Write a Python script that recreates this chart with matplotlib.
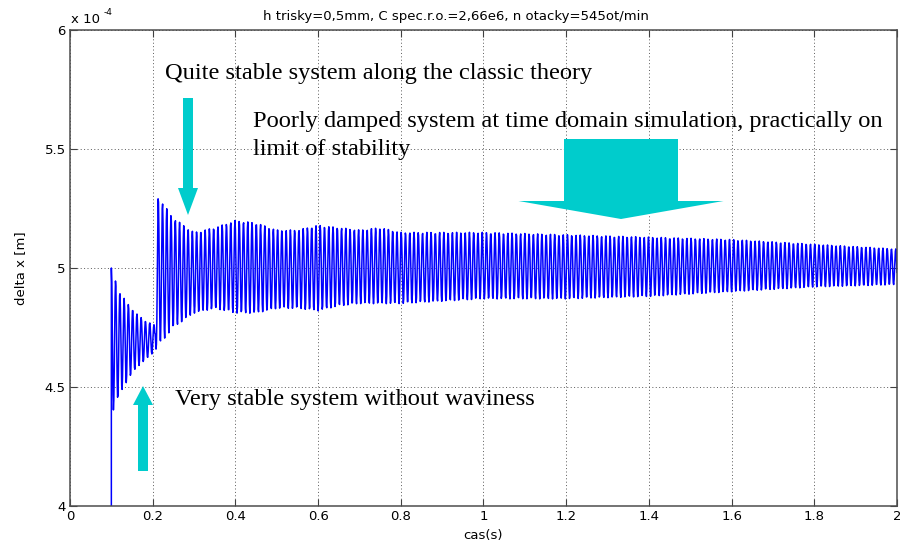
import numpy as np
import matplotlib
matplotlib.use("Agg")
import matplotlib.pyplot as plt
from matplotlib.patches import Polygon

# response of the spindle displacement, in units of 1e-4 m
# before the cut starts the value sits at zero (below the visible range)
start_t = [0.0, 0.1]
start_val = [0.0, 0.0]

# envelope of the vibration read at a few instants (upper / lower peaks)
env_t = [0.100, 0.120, 0.140, 0.160, 0.180, 0.205, 0.213, 0.250, 0.300, 0.350,
         0.400, 0.450, 0.500, 0.550, 0.600, 0.650, 0.700, 0.750, 0.800, 0.900,
         1.000, 1.200, 1.400, 1.600, 1.800, 2.000]
env_upper = [5.00, 4.90, 4.85, 4.81, 4.78, 4.76, 5.30, 5.21, 5.15, 5.17,
             5.20, 5.19, 5.16, 5.16, 5.18, 5.17, 5.16, 5.17, 5.15, 5.15,
             5.15, 5.14, 5.13, 5.12, 5.10, 5.08]
env_lower = [4.38, 4.47, 4.53, 4.58, 4.61, 4.65, 4.67, 4.75, 4.81, 4.83,
             4.81, 4.81, 4.83, 4.83, 4.82, 4.84, 4.85, 4.85, 4.85, 4.86,
             4.87, 4.87, 4.88, 4.90, 4.92, 4.93]
f_osc = 97.0   # Hz, vibration frequency
dt_sim = 0.001  # simulation output step

x_ticks = [0, 0.2, 0.4, 0.6, 0.8, 1.0, 1.2, 1.4, 1.6, 1.8, 2.0]
x_labels = ["0", "0.2", "0.4", "0.6", "0.8", "1", "1.2", "1.4", "1.6", "1.8", "2"]
y_ticks = [4, 4.5, 5, 5.5, 6]
y_labels = ["4", "4.5", "5", "5.5", "6"]

title = "h trisky=0,5mm, C spec.r.o.=2,66e6, n otacky=545ot/min"

W, H = 900, 542


def fx(px):
    return px / W


def fy(py):
    return 1 - py / H


# build the oscillating trace from the envelope
t = np.arange(env_t[0], env_t[-1] + 1e-9, dt_sim)
up = np.interp(t, env_t, env_upper)
lo = np.interp(t, env_t, env_lower)
sig = (up + lo) / 2 + (up - lo) / 2 * np.cos(2 * np.pi * f_osc * (t - env_t[0]))
t_all = np.concatenate([start_t, t])
y_all = np.concatenate([start_val, sig])

fig = plt.figure(figsize=(W / 100, H / 100), dpi=100)
ax = fig.add_axes([fx(70), fy(506), 827 / W, 476 / H])

ax.plot(t_all, y_all, color="blue", lw=1.1, zorder=2)

ax.set_xlim(0, 2)
ax.set_ylim(4, 6)
ax.set_xticks(x_ticks)
ax.set_xticklabels(x_labels)
ax.set_yticks(y_ticks)
ax.set_yticklabels(y_labels)
ax.tick_params(direction="in", length=5, width=0.8, color="0.25",
               top=True, right=True, labelsize=9.5, pad=3)
for lab in ax.get_xticklabels() + ax.get_yticklabels():
    lab.set_family("DejaVu Sans")
ax.grid(True, linestyle=(0, (1, 2.5)), color="0.35", lw=0.7, zorder=0)
ax.set_axisbelow(True)
for sp in ax.spines.values():
    sp.set_color("0.3")
    sp.set_linewidth(1.1)

ax.set_xlabel("cas(s)", fontsize=9.5, family="DejaVu Sans", labelpad=4)
ax.set_ylabel("delta x [m]", fontsize=9.5, family="DejaVu Sans", labelpad=13)
fig.text(fx(456), fy(20), title, fontsize=9.5, family="DejaVu Sans",
         ha="center", va="baseline")
fig.text(fx(71), fy(23), "x 10", fontsize=9.5, family="DejaVu Sans",
         ha="left", va="baseline")
fig.text(fx(104), fy(15), "-4", fontsize=6.5, family="DejaVu Sans",
         ha="left", va="baseline")


def arrow(xc, y_tail, y_base, y_tip, shaft_w, head_w):
    # block arrow in axes fraction, vertical direction
    sx, hx = shaft_w / 2, head_w / 2
    pts = [(xc - sx, y_tail), (xc + sx, y_tail), (xc + sx, y_base),
           (xc + hx, y_base), (xc, y_tip), (xc - hx, y_base), (xc - sx, y_base)]
    ax.add_patch(Polygon(pts, closed=True, transform=ax.transAxes,
                         facecolor="#00cccc", edgecolor="none",
                         clip_on=False, zorder=5))


def ax_x(px):
    return (px - 70) / 827


def ax_y(py):
    return (506 - py) / 476


arrow(ax_x(188), ax_y(98), ax_y(188), ax_y(215), 10 / 827, 20 / 827)
arrow(ax_x(143), ax_y(471), ax_y(405), ax_y(386), 10 / 827, 20 / 827)
arrow(ax_x(621), ax_y(139), ax_y(201), ax_y(219), 114 / 827, 205 / 827)

serif = dict(fontsize=17.6, family="Liberation Serif", ha="left",
             va="baseline", color="black")
fig.text(fx(165), fy(79), "Quite stable system along the classic theory", **serif)
fig.text(fx(253), fy(127),
         "Poorly damped system at time domain simulation, practically on", **serif)
fig.text(fx(253), fy(155), "limit of stability", **serif)
fig.text(fx(175), fy(405), "Very stable system without waviness", **serif)

fig.savefig("out.png", dpi=100)
